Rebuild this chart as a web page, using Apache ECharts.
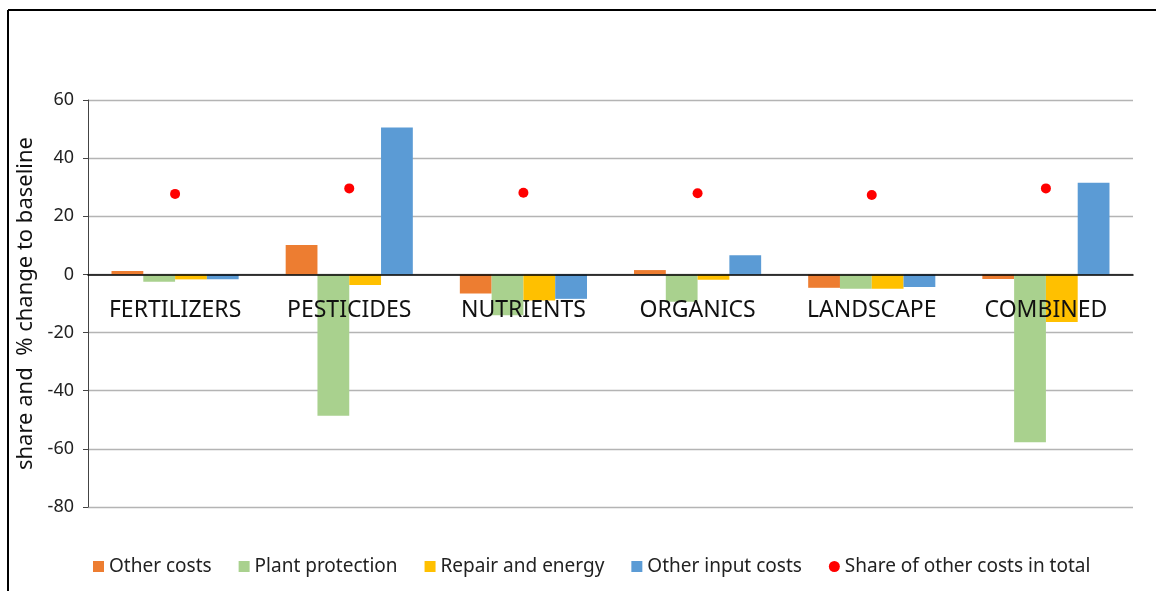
<!DOCTYPE html>
<html>
<head>
<meta charset="utf-8">
<script src="https://cdn.jsdelivr.net/npm/echarts@6/dist/echarts.min.js"></script>
<style>
html,body{margin:0;padding:0;background:#fff;}
#main{width:1156px;height:591px;}
</style>
</head>
<body>
<div id="main"></div>
<script>
const categories = ['FERTILIZERS', 'PESTICIDES', 'NUTRIENTS', 'ORGANICS', 'LANDSCAPE', 'COMBINED'];
const otherCosts = [1.2, 10.1, -6.6, 1.5, -4.6, -1.6];
const plantProtection = [-2.5, -48.6, -14.0, -9.4, -4.9, -57.7];
const repairEnergy = [-1.7, -3.6, -9.0, -1.8, -4.9, -16.4];
const otherInputCosts = [-1.7, 50.5, -8.4, 6.6, -4.3, 31.5];
const shareOtherCosts = [27.7, 29.6, 28.1, 27.9, 27.3, 29.6];
const yTicks = {min: -80, max: 60, interval: 20};

const FONT = 'Noto Sans';
const W = 1156, H = 591;
const gridTop = 100, gridBottom = 84;
const plotH = H - gridTop - gridBottom;
// distance of zero line from bottom of plot, so category labels sit under the zero line
const zeroOffset = -plotH * (0 - yTicks.min) / (yTicks.max - yTicks.min);

const chart = echarts.init(document.getElementById('main'), null, {renderer: 'canvas'});
const barBase = {type: 'bar', barGap: '0%', barCategoryGap: '27%'};
chart.setOption({
  animation: false,
  backgroundColor: '#fff',
  textStyle: {fontFamily: FONT},
  graphic: [
    {type: 'line', shape: {x1: 8, y1: 10, x2: W, y2: 10}, style: {stroke: '#000', lineWidth: 2}},
    {type: 'line', shape: {x1: 8, y1: 10, x2: 8, y2: H}, style: {stroke: '#000', lineWidth: 2}}
  ],
  grid: {left: 88, right: 23, top: gridTop, bottom: gridBottom, containLabel: false},
  legend: {
    left: 88, top: 552,
    itemWidth: 11, itemHeight: 11, itemGap: 27,
    textStyle: {fontFamily: FONT, fontSize: 19, color: '#222'},
    data: [
      {name: 'Other costs', icon: 'rect'},
      {name: 'Plant protection', icon: 'rect'},
      {name: 'Repair and energy', icon: 'rect'},
      {name: 'Other input costs', icon: 'rect'},
      {name: 'Share of other costs in total', icon: 'circle'}
    ]
  },
  xAxis: [{
    type: 'category', data: categories, z: 10,
    axisLine: {onZero: true, lineStyle: {color: '#000', width: 1.5}},
    axisTick: {show: false},
    axisLabel: {show: false}
  }, {
    type: 'category', data: categories, z: 10, position: 'bottom', offset: zeroOffset,
    axisLine: {show: false},
    axisTick: {show: false},
    splitLine: {show: false},
    axisLabel: {fontFamily: FONT, fontSize: 23, color: '#111', margin: 25}
  }],
  yAxis: {
    type: 'value', min: yTicks.min, max: yTicks.max, interval: yTicks.interval,
    name: 'share and  % change to baseline', nameLocation: 'middle', nameGap: 43,
    nameTextStyle: {fontFamily: FONT, fontSize: 22, color: '#111'},
    axisLine: {show: true, lineStyle: {color: '#444', width: 1}},
    axisTick: {show: true, inside: false, length: 5, lineStyle: {color: '#444'}},
    axisLabel: {fontFamily: FONT, fontSize: 18, color: '#222', margin: 14},
    splitLine: {lineStyle: {color: '#b4b4b4', width: 1.3}}
  },
  series: [
    Object.assign({}, barBase, {name: 'Other costs', data: otherCosts, itemStyle: {color: '#ED7D31'}}),
    Object.assign({}, barBase, {name: 'Plant protection', data: plantProtection, itemStyle: {color: '#A9D18E'}}),
    Object.assign({}, barBase, {name: 'Repair and energy', data: repairEnergy, itemStyle: {color: '#FFC000'}}),
    Object.assign({}, barBase, {name: 'Other input costs', data: otherInputCosts, itemStyle: {color: '#5B9BD5'}}),
    {type: 'scatter', name: 'Share of other costs in total', data: shareOtherCosts, symbol: 'circle', symbolSize: 10, z: 5, itemStyle: {color: '#FF0000', opacity: 1}}
  ]
});
</script>
</body>
</html>
